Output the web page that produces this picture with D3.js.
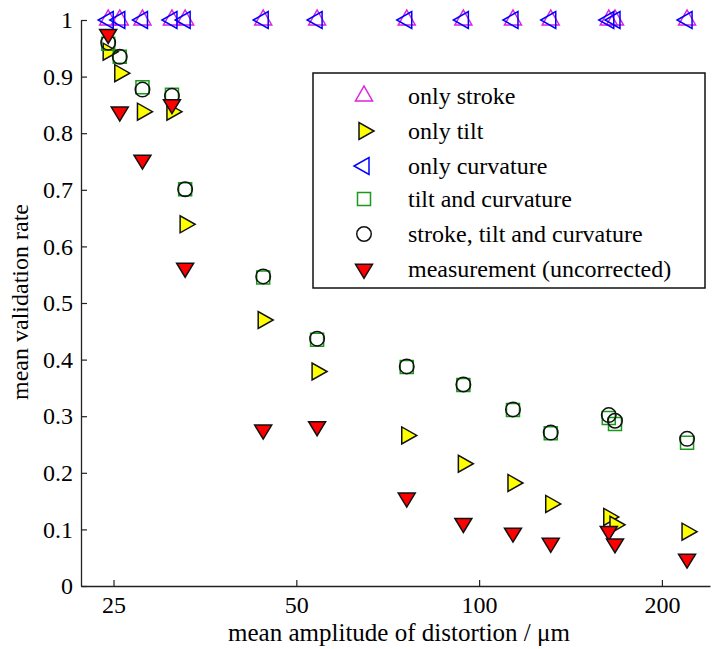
<!DOCTYPE html>
<html>
<head>
<meta charset="utf-8">
<script src="https://cdn.jsdelivr.net/npm/d3@7"></script>
<style>
  body { margin: 0; background: #fff; }
</style>
</head>
<body>
<div id="chart"></div>
<script>
// mean amplitude of distortion (µm), shared by all series
const amplitude = [24.5, 25.6, 27.9, 31.2, 32.8, 44.1, 54.1, 76.0, 94.2, 113.7, 131.2, 163.5, 167.4, 220];

const onlyStroke    = [1, 1, 1, 1, 1, 1, 1, 1, 1, 1, 1, 1, 1, 1];
const onlyTilt      = [0.944, 0.906, 0.838, 0.838, 0.639, 0.470, 0.379, 0.266, 0.216, 0.182, 0.145, 0.122, 0.108, 0.096];
const onlyCurvature = [1, 1, 1, 1, 1, 1, 1, 1, 1, 1, 1, 1, 1, 1];
const tiltCurvature = [0.958, 0.935, 0.881, 0.868, 0.701, 0.545, 0.435, 0.387, 0.355, 0.311, 0.270, 0.297, 0.286, 0.253];
const allCorrected  = [0.960, 0.935, 0.877, 0.866, 0.701, 0.547, 0.437, 0.388, 0.356, 0.312, 0.271, 0.302, 0.292, 0.260];
const measurement   = [0.975, 0.838, 0.753, 0.851, 0.562, 0.276, 0.282, 0.156, 0.111, 0.094, 0.076, 0.097, 0.075, 0.048];

const xTicks = [25, 50, 100, 200];
const yTicks = [0, 0.1, 0.2, 0.3, 0.4, 0.5, 0.6, 0.7, 0.8, 0.9, 1];

const FONT = "'Liberation Serif', Tinos, 'Times New Roman', Times, serif";
const width = 712, height = 649;

const svg = d3.select('#chart').append('svg')
    .attr('width', width)
    .attr('height', height)
    .attr('font-family', FONT);

const x = d3.scaleLog().domain([22.1, 240]).range([81, 710]);
const y = d3.scaleLinear().domain([0, 1]).range([586, 20]);

// triangle centred on its centroid, pointing in a direction
function triangle(dir, w, h) {
    const pts = [[-w / 2, -h / 3], [w / 2, -h / 3], [0, 2 * h / 3]];
    const rot = { down: 0, up: 180, left: 90, right: -90 }[dir] * Math.PI / 180;
    return 'M' + pts.map(([a, b]) => [
        a * Math.cos(rot) - b * Math.sin(rot),
        a * Math.sin(rot) + b * Math.cos(rot)
    ].map(v => v.toFixed(2)).join(',')).join('L') + 'Z';
}

const series = [
    { name: 'only stroke', values: onlyStroke, shape: triangle('up', 17, 15), fill: 'none', stroke: '#dd22dd' },
    { name: 'only tilt', values: onlyTilt, shape: triangle('right', 17, 15), fill: '#ffff00', stroke: '#111' },
    { name: 'only curvature', values: onlyCurvature, shape: triangle('left', 17, 15), fill: 'none', stroke: '#0000ff' },
    { name: 'tilt and curvature', values: tiltCurvature, shape: 'M-6.5,-6.5H6.5V6.5H-6.5Z', fill: 'none', stroke: '#1a9a1a' },
    { name: 'stroke, tilt and curvature', values: allCorrected, shape: d3.symbol(d3.symbolCircle, 165)(), fill: 'none', stroke: '#111' },
    { name: 'measurement (uncorrected)', values: measurement, shape: triangle('down', 17, 14), fill: '#ff0000', stroke: '#111' }
];

// Axes
const xAxis = d3.axisBottom(x)
    .tickValues(xTicks)
    .tickFormat(d3.format('d'))
    .tickSizeInner(-6)
    .tickSizeOuter(0)
    .tickPadding(10);

const yAxis = d3.axisLeft(y)
    .tickValues(yTicks)
    .tickFormat(d3.format('~g'))
    .tickSizeInner(-6)
    .tickSizeOuter(0)
    .tickPadding(8);

const gx = svg.append('g').attr('transform', `translate(0,${y(0)})`).call(xAxis);
const gy = svg.append('g').attr('transform', `translate(${x.range()[0]},0)`).call(yAxis);

[gx, gy].forEach(g => {
    g.attr('font-family', FONT).attr('font-size', 24);
    g.select('.domain').attr('stroke', '#222').attr('stroke-width', 1.3);
    g.selectAll('.tick line').attr('stroke', '#222').attr('stroke-width', 1.2);
    g.selectAll('.tick text').attr('fill', '#000');
});

svg.append('text')
    .attr('x', 399)
    .attr('y', 641)
    .attr('text-anchor', 'middle')
    .attr('font-size', 25)
    .text('mean amplitude of distortion / μm');

svg.append('text')
    .attr('transform', 'translate(28,302) rotate(-90)')
    .attr('text-anchor', 'middle')
    .attr('font-size', 24)
    .text('mean validation rate');

// Markers
series.forEach(s => {
    svg.append('g')
        .selectAll('path')
        .data(s.values.map((v, i) => [amplitude[i], v]))
        .enter()
        .append('path')
        .attr('d', s.shape)
        .attr('transform', d => `translate(${x(d[0])},${y(d[1])})`)
        .attr('fill', s.fill)
        .attr('stroke', s.stroke)
        .attr('stroke-width', 1.5);
});

// Legend
const legend = svg.append('g');
legend.append('rect')
    .attr('x', 313).attr('y', 73)
    .attr('width', 392).attr('height', 215)
    .attr('fill', '#fff')
    .attr('stroke', '#111')
    .attr('stroke-width', 1.5);

const rowY = [96, 131, 166, 199, 234, 269];
series.forEach((s, i) => {
    legend.append('path')
        .attr('d', s.shape)
        .attr('transform', `translate(364,${rowY[i]})`)
        .attr('fill', s.fill)
        .attr('stroke', s.stroke)
        .attr('stroke-width', 1.5);
    legend.append('text')
        .attr('x', 408)
        .attr('y', rowY[i])
        .attr('dy', '0.35em')
        .attr('font-size', 24)
        .text(s.name);
});
</script>
</body>
</html>
